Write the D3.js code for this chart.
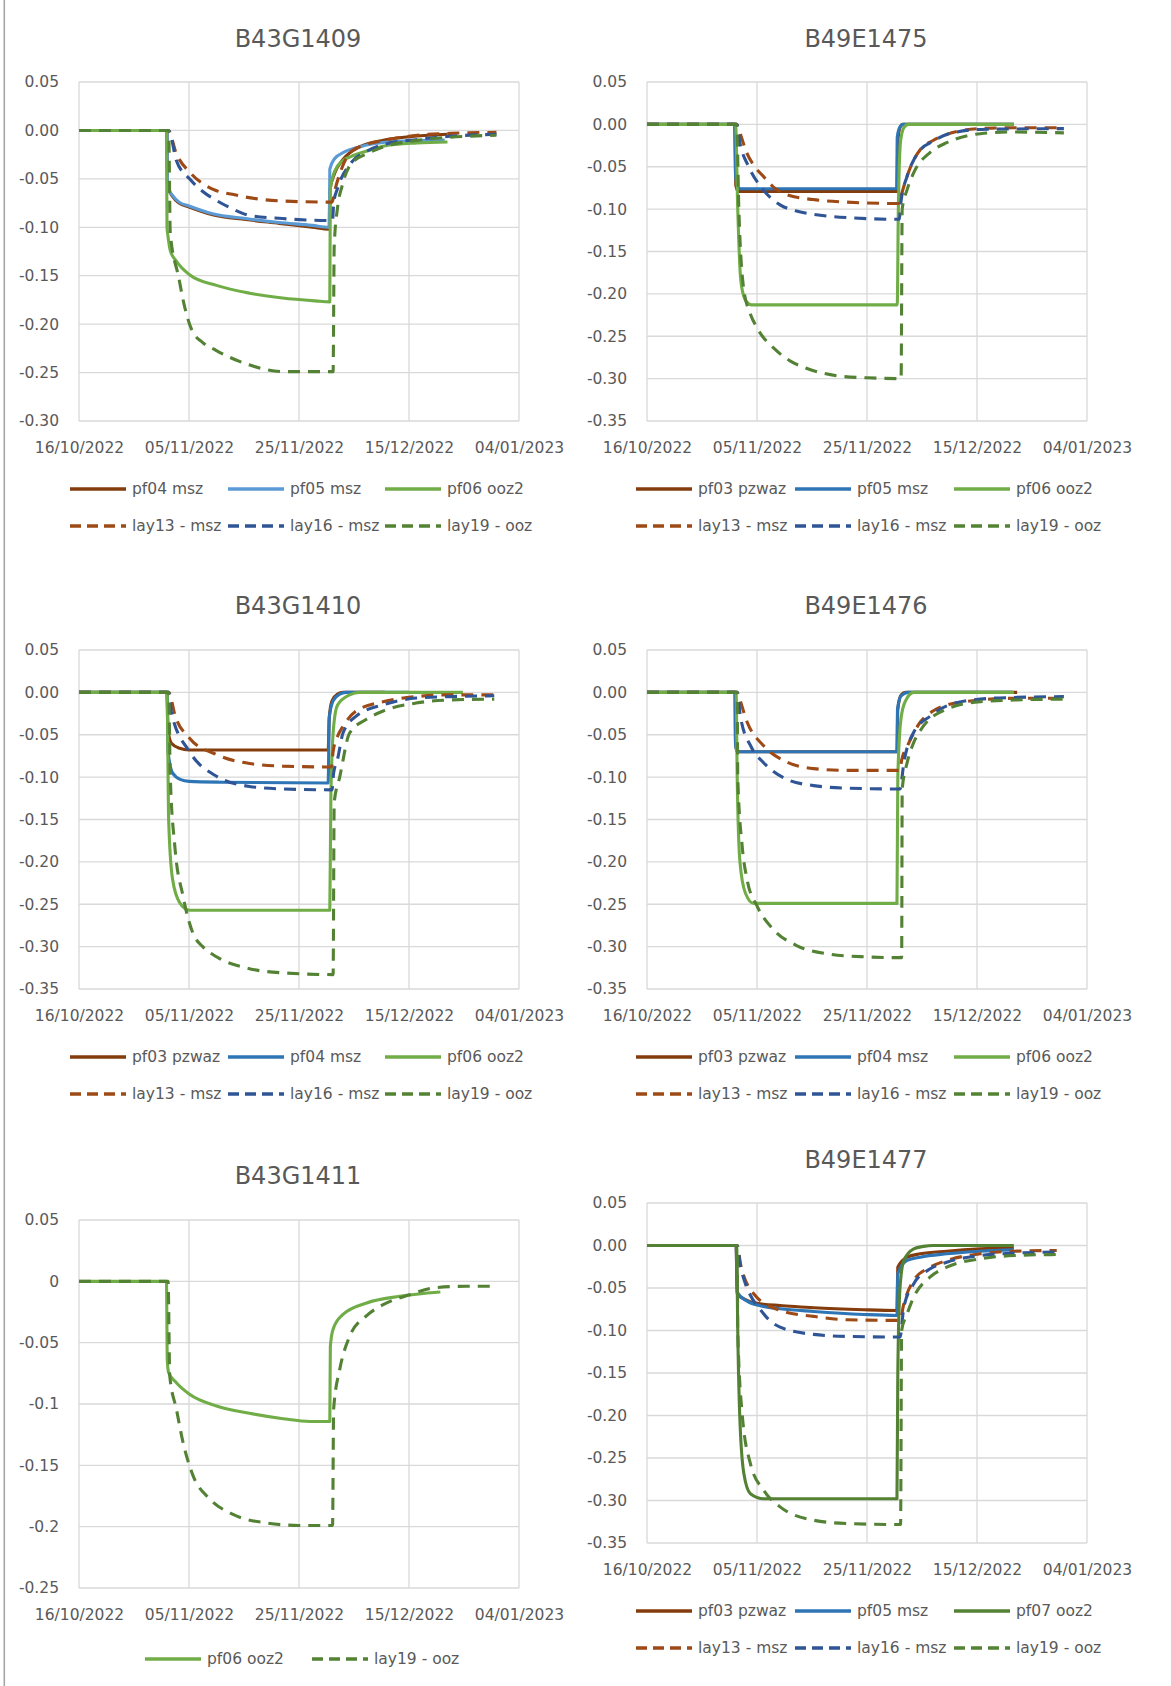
<!DOCTYPE html>
<html><head><meta charset="utf-8">
<script src="https://cdn.jsdelivr.net/npm/d3@7"></script>
<style>
html,body{margin:0;padding:0;background:#fff;}
text{font-family:"DejaVu Sans",sans-serif;fill:#595959;}
</style></head>
<body>
<script>
// ---------- axis labels ----------
const xTickLabels = ["16/10/2022","05/11/2022","25/11/2022","15/12/2022","04/01/2023"];
const yTicks035 = [0.05,0,-0.05,-0.10,-0.15,-0.20,-0.25,-0.30,-0.35];
const yTicks030 = [0.05,0,-0.05,-0.10,-0.15,-0.20,-0.25,-0.30];
const yTicks025 = [0.05,0,-0.05,-0.1,-0.15,-0.2,-0.25];

// ---------- data: [days since 16/10/2022, value] ----------
// B43G1409
const g1409_pf04 = [[0,0],[16,0],[16.1,-0.058],[17,-0.068],[18.2,-0.075],[20,-0.079],[24.3,-0.087],[30.3,-0.092],[36.4,-0.096],[42.4,-0.100],[45.5,-0.102],[45.6,-0.062],[46.5,-0.044],[48,-0.030],[51,-0.017],[56,-0.0095],[61,-0.006],[67,-0.004]];
const g1409_pf05 = [[0,0],[16,0],[16.1,-0.058],[17,-0.067],[18.2,-0.074],[20,-0.078],[24.3,-0.086],[30.3,-0.091],[36.4,-0.095],[42.4,-0.098],[45.5,-0.100],[45.6,-0.040],[46.5,-0.029],[48,-0.023],[51,-0.017],[56,-0.012],[61,-0.0105],[66.5,-0.010]];
const g1409_pf06 = [[0,0],[15.9,0],[16,-0.100],[16.2,-0.110],[16.6,-0.124],[17.7,-0.135],[20.1,-0.149],[25,-0.160],[31,-0.168],[37,-0.173],[43,-0.176],[45.6,-0.177],[45.7,-0.060],[46.5,-0.042],[48,-0.031],[49.4,-0.027],[52.5,-0.021],[55.5,-0.016],[61.5,-0.013],[67,-0.012]];
const g1409_lay13 = [[0,0],[16.2,0],[17.7,-0.024],[20.1,-0.043],[22.5,-0.055],[24.9,-0.062],[27.9,-0.066],[30.9,-0.0694],[37,-0.0729],[46,-0.074],[46.6,-0.060],[47.4,-0.045],[49.4,-0.022],[52.5,-0.014],[55.4,-0.0103],[61.5,-0.005],[67.5,-0.003],[75.9,-0.002]];
const g1409_lay16 = [[0,0],[16.3,0],[17.7,-0.031],[20.1,-0.050],[22.5,-0.063],[24.9,-0.072],[27.9,-0.081],[30.9,-0.0876],[37,-0.091],[46.1,-0.093],[46.3,-0.075],[47,-0.060],[49.4,-0.034],[52.5,-0.021],[55.4,-0.0145],[61.5,-0.0093],[67.5,-0.006],[75.9,-0.004]];
const g1409_lay19 = [[0,0],[16.3,0],[16.6,-0.1065],[18.1,-0.151],[19.2,-0.182],[20.5,-0.206],[22.5,-0.219],[24.9,-0.227],[30.9,-0.242],[37,-0.249],[46.2,-0.249],[46.4,-0.120],[47,-0.080],[47.8,-0.058],[49.4,-0.035],[52.5,-0.0237],[55.4,-0.0168],[61.5,-0.0103],[67.5,-0.007],[75.9,-0.005]];
// B49E1475
const e1475_pf03 = [[0,0],[16,0],[16.15,-0.072],[16.6,-0.079],[45.45,-0.079],[45.6,-0.020],[46,-0.004],[46.5,0],[66.7,0]];
const e1475_pf05 = [[0,0],[15.9,0],[16.1,-0.060],[16.5,-0.074],[17,-0.076],[45.4,-0.076],[45.5,-0.015],[46,-0.003],[46.6,0],[66.7,0]];
const e1475_pf06 = [[0,0],[16.1,0],[16.5,-0.100],[17,-0.180],[17.6,-0.203],[18.2,-0.210],[19,-0.213],[45.5,-0.213],[45.7,-0.100],[46.1,-0.020],[46.7,-0.004],[47.5,0],[66.7,0]];
const e1475_lay13 = [[0,0],[16.3,0],[17,-0.012],[18.1,-0.033],[19.6,-0.050],[21.1,-0.061],[23,-0.074],[25.4,-0.083],[30.2,-0.0887],[36.3,-0.0917],[45.9,-0.0934],[46.2,-0.085],[47.3,-0.061],[48.5,-0.042],[49.7,-0.0296],[52,-0.019],[54.5,-0.0118],[60.6,-0.005],[66.7,-0.004],[75.8,-0.004]];
const e1475_lay16 = [[0,0],[16.3,0],[16.9,-0.022],[18.5,-0.050],[21.1,-0.077],[24.2,-0.095],[27,-0.102],[30.2,-0.106],[36.3,-0.110],[45.9,-0.112],[46.1,-0.095],[47.3,-0.061],[48.5,-0.042],[49.7,-0.030],[52,-0.020],[54.5,-0.012],[60.6,-0.006],[75.8,-0.005]];
const e1475_lay19 = [[0,0],[16.3,0],[16.7,-0.100],[17.6,-0.195],[18.7,-0.222],[20,-0.240],[23.2,-0.265],[26,-0.279],[29.1,-0.288],[35,-0.297],[40,-0.299],[46.2,-0.300],[46.4,-0.100],[47.3,-0.077],[48.5,-0.057],[51.5,-0.033],[54.5,-0.0216],[60.6,-0.011],[66.7,-0.009],[75.8,-0.010]];
// B43G1410
const g1410_pf03 = [[0,0],[16,0],[16.2,-0.045],[16.8,-0.060],[18.3,-0.066],[20,-0.068],[45.3,-0.068],[45.5,-0.030],[46,-0.010],[47,-0.002],[48,0],[55.6,0]];
const g1410_pf04 = [[0,0],[16,0],[16.2,-0.070],[17,-0.095],[18.5,-0.103],[20,-0.105],[26,-0.106],[45.3,-0.107],[45.5,-0.030],[46.2,-0.010],[47.4,-0.002],[48.5,0],[60,0]];
const g1410_pf06 = [[0,0],[16,0],[16.3,-0.150],[17,-0.220],[18.3,-0.248],[20.1,-0.257],[45.6,-0.257],[45.8,-0.120],[46.3,-0.040],[47,-0.015],[49.2,-0.003],[51,0],[69.8,0]];
const g1410_lay13 = [[0,0],[16.3,0],[17.5,-0.028],[20.1,-0.054],[25,-0.0733],[31,-0.084],[37,-0.087],[45.9,-0.088],[46.2,-0.070],[47,-0.052],[48,-0.040],[50.4,-0.022],[55.3,-0.011],[61.3,-0.005],[67.3,-0.003],[75.5,-0.003]];
const g1410_lay16 = [[0,0],[16.3,0],[16.8,-0.024],[20.1,-0.070],[25,-0.099],[31,-0.111],[37,-0.114],[46,-0.115],[46.3,-0.095],[47,-0.079],[48,-0.048],[50.4,-0.028],[55.3,-0.0146],[61.3,-0.0067],[67.3,-0.005],[75.5,-0.004]];
const g1410_lay19 = [[0,0],[16.3,0],[16.6,-0.100],[17.4,-0.180],[18.9,-0.240],[20.7,-0.284],[22.5,-0.300],[25,-0.312],[31,-0.326],[37.1,-0.331],[46.2,-0.333],[46.4,-0.130],[47.4,-0.100],[49.2,-0.048],[52.2,-0.032],[55.3,-0.022],[61.3,-0.0126],[67.3,-0.009],[75.5,-0.008]];
// B49E1476
const e1476_pf03 = [[0,0],[16,0],[16.1,-0.060],[16.4,-0.070],[45.45,-0.070],[45.6,-0.020],[46.2,-0.003],[47,0],[67.3,0]];
const e1476_pf04 = [[0,0],[16,0],[16.1,-0.062],[16.4,-0.070],[45.45,-0.070],[45.55,-0.020],[46.2,-0.004],[47.5,0],[66.5,0]];
const e1476_pf06 = [[0,0],[16.2,0],[16.4,-0.100],[16.9,-0.200],[17.9,-0.237],[19.4,-0.249],[45.45,-0.249],[45.6,-0.100],[46.2,-0.030],[47,-0.010],[48.5,0],[66.7,0]];
const e1476_lay13 = [[0,0],[16.4,0],[16.7,-0.005],[18.2,-0.035],[21.2,-0.063],[25.4,-0.082],[30.3,-0.090],[36.4,-0.092],[46,-0.092],[46.3,-0.080],[47.3,-0.064],[49.7,-0.035],[52,-0.022],[54.5,-0.015],[60.6,-0.009],[66.7,-0.007],[75.8,-0.007]];
const e1476_lay16 = [[0,0],[16.4,0],[17,-0.029],[19,-0.065],[21.2,-0.083],[25.4,-0.1025],[30.3,-0.110],[36.4,-0.113],[46,-0.114],[46.7,-0.083],[48.5,-0.047],[51.5,-0.028],[54.5,-0.016],[60.6,-0.008],[66.7,-0.006],[75.8,-0.005]];
const e1476_lay19 = [[0,0],[16.4,0],[16.5,-0.100],[17.3,-0.181],[18.2,-0.221],[20,-0.252],[23,-0.280],[27.3,-0.299],[33.3,-0.309],[39.4,-0.312],[46.3,-0.313],[46.4,-0.114],[47.3,-0.083],[48.5,-0.059],[49.7,-0.045],[54.5,-0.0197],[60.6,-0.011],[66.7,-0.009],[75.8,-0.008]];
// B43G1411
const g1411_pf06 = [[0,0],[15.9,0],[16.05,-0.064],[16.3,-0.0745],[17.7,-0.0826],[20.1,-0.092],[25,-0.1016],[31,-0.1076],[37.1,-0.112],[42,-0.1143],[45.6,-0.1143],[45.7,-0.053],[46.2,-0.039],[48,-0.027],[52.3,-0.0176],[58.3,-0.0122],[65.7,-0.0087]];
const g1411_lay19 = [[0,0],[16.2,0],[16.5,-0.077],[17.7,-0.104],[18.9,-0.131],[20.7,-0.158],[23.8,-0.1775],[28,-0.190],[34.1,-0.197],[40,-0.199],[46.1,-0.199],[46.3,-0.104],[47.4,-0.072],[49.2,-0.045],[52.3,-0.028],[55.3,-0.019],[60.1,-0.011],[64.4,-0.0054],[70.4,-0.004],[75.3,-0.004]];
// B49E1477
const e1477_pf03 = [[0,0],[16.2,0],[16.4,-0.057],[18.2,-0.0646],[21.2,-0.0693],[24.2,-0.0705],[30.3,-0.0733],[39.4,-0.0756],[45.45,-0.0764],[45.6,-0.0255],[47.3,-0.0137],[49.7,-0.0098],[54.5,-0.0067],[60.6,-0.004],[66.7,-0.0027]];
const e1477_pf05 = [[0,0],[16.2,0],[16.4,-0.0549],[18.2,-0.0654],[21.2,-0.0717],[24.2,-0.0744],[30.3,-0.0776],[39.4,-0.0811],[45.45,-0.0823],[45.6,-0.0333],[47.3,-0.0176],[49.7,-0.0137],[54.5,-0.0098],[60.6,-0.0067],[66.7,-0.0051]];
const e1477_pf07 = [[0,0],[16.3,0],[16.5,-0.100],[16.85,-0.198],[17.6,-0.268],[18.8,-0.292],[21.2,-0.298],[45.45,-0.298],[45.6,-0.150],[46,-0.050],[46.7,-0.0176],[48.5,-0.004],[50.3,-0.001],[52,0],[66.7,0]];
const e1477_lay13 = [[0,0],[16.4,0],[17,-0.0215],[19.4,-0.0568],[24.2,-0.0764],[30.3,-0.0834],[36.4,-0.0874],[46,-0.0881],[46.7,-0.0685],[48.5,-0.041],[51.5,-0.0255],[54.5,-0.0176],[60.6,-0.0098],[66.7,-0.0067],[74.5,-0.0059]];
const e1477_lay16 = [[0,0],[16.4,0],[17,-0.0255],[21.2,-0.0803],[24.2,-0.096],[30.3,-0.1046],[36.4,-0.107],[46,-0.1077],[46.7,-0.0725],[48.5,-0.045],[51.5,-0.0274],[54.5,-0.0196],[60.6,-0.0118],[66.7,-0.009],[74.5,-0.0078]];
const e1477_lay19 = [[0,0],[16.4,0],[16.5,-0.100],[17.3,-0.198],[18.8,-0.2566],[21.2,-0.2879],[24.2,-0.3075],[30.3,-0.3232],[36.4,-0.3271],[46.1,-0.3283],[46.3,-0.100],[47.3,-0.0803],[48.5,-0.0607],[51.5,-0.037],[54.5,-0.0255],[60.6,-0.0157],[66.7,-0.0118],[74.5,-0.0106]];

// ---------- styles ----------
const C = {
  brown:"#843C0C", brownD:"#9E4A17", lblue:"#5B9BD5", blue:"#2E75B6", blueD:"#2F5597",
  green:"#70AD47", greenD:"#548235", dgreen:"#548235"
};
const S = (name,data,color,dash)=>({name,data,color,dash});
const hy = f => d => f(d).replace("\u2212","-");

const charts = [
  {title:"B43G1409", L:79, R:519, T:82, B:421, ty:38, yt:yTicks030, fmt:hy(d3.format(".2f")), lx:[70,228,385],
   series:[S("pf04 msz",g1409_pf04,C.brown,false),S("pf05 msz",g1409_pf05,C.lblue,false),S("pf06 ooz2",g1409_pf06,C.green,false),
           S("lay13 - msz",g1409_lay13,C.brownD,true),S("lay16 - msz",g1409_lay16,C.blueD,true),S("lay19 - ooz",g1409_lay19,C.greenD,true)]},
  {title:"B49E1475", L:647, R:1087, T:82, B:421, ty:38, yt:yTicks035, fmt:hy(d3.format(".2f")), lx:[636,795,954],
   series:[S("pf03 pzwaz",e1475_pf03,C.brown,false),S("pf05 msz",e1475_pf05,C.blue,false),S("pf06 ooz2",e1475_pf06,C.green,false),
           S("lay13 - msz",e1475_lay13,C.brownD,true),S("lay16 - msz",e1475_lay16,C.blueD,true),S("lay19 - ooz",e1475_lay19,C.greenD,true)]},
  {title:"B43G1410", L:79, R:519, T:650, B:989, ty:605, yt:yTicks035, fmt:hy(d3.format(".2f")), lx:[70,228,385],
   series:[S("pf03 pzwaz",g1410_pf03,C.brown,false),S("pf04 msz",g1410_pf04,C.blue,false),S("pf06 ooz2",g1410_pf06,C.green,false),
           S("lay13 - msz",g1410_lay13,C.brownD,true),S("lay16 - msz",g1410_lay16,C.blueD,true),S("lay19 - ooz",g1410_lay19,C.greenD,true)]},
  {title:"B49E1476", L:647, R:1087, T:650, B:989, ty:605, yt:yTicks035, fmt:hy(d3.format(".2f")), lx:[636,795,954],
   series:[S("pf03 pzwaz",e1476_pf03,C.brown,false),S("pf04 msz",e1476_pf04,C.blue,false),S("pf06 ooz2",e1476_pf06,C.green,false),
           S("lay13 - msz",e1476_lay13,C.brownD,true),S("lay16 - msz",e1476_lay16,C.blueD,true),S("lay19 - ooz",e1476_lay19,C.greenD,true)]},
  {title:"B43G1411", L:79, R:519, T:1220, B:1588, ty:1175, yt:yTicks025, fmt:hy(d3.format("")), lx:[145,312], oneRow:true,
   series:[S("pf06 ooz2",g1411_pf06,C.green,false),S("lay19 - ooz",g1411_lay19,C.greenD,true)]},
  {title:"B49E1477", L:647, R:1087, T:1203, B:1543, ty:1159, yt:yTicks035, fmt:hy(d3.format(".2f")), lx:[636,795,954],
   series:[S("pf03 pzwaz",e1477_pf03,C.brown,false),S("pf05 msz",e1477_pf05,C.blue,false),S("pf07 ooz2",e1477_pf07,C.dgreen,false),
           S("lay13 - msz",e1477_lay13,C.brownD,true),S("lay16 - msz",e1477_lay16,C.blueD,true),S("lay19 - ooz",e1477_lay19,C.greenD,true)]}
];

const parse = d3.utcParse("%d/%m/%Y"), fmtX = d3.utcFormat("%d/%m/%Y");
const xDates = xTickLabels.map(parse);
const T0 = xDates[0].getTime(), DAY = 864e5;
const FS = 15.5;

const svg = d3.select("body").append("svg").attr("width",1171).attr("height",1686);
svg.append("rect").attr("width",1171).attr("height",1686).attr("fill","#fff");
svg.append("rect").attr("x",3.5).attr("y",0).attr("width",1.6).attr("height",1686).attr("fill","#A6A6A6");

charts.forEach(c=>{
  const g = svg.append("g");
  const x = d3.scaleUtc().domain([xDates[0], xDates[xDates.length-1]]).range([c.L,c.R]);
  const y = d3.scaleLinear().domain([d3.min(c.yt), d3.max(c.yt)]).range([c.B,c.T]);

  // gridlines
  g.selectAll(".hg").data(c.yt).join("line").attr("x1",c.L).attr("x2",c.R)
    .attr("y1",d=>y(d)).attr("y2",d=>y(d)).attr("stroke","#D9D9D9").attr("stroke-width",1.3);
  g.selectAll(".vg").data(xDates).join("line").attr("y1",c.T).attr("y2",c.B)
    .attr("x1",d=>x(d)).attr("x2",d=>x(d)).attr("stroke","#D9D9D9").attr("stroke-width",1.3);

  // axes (labels only)
  const ax = g.append("g").attr("transform",`translate(0,${c.B})`)
    .call(d3.axisBottom(x).tickValues(xDates).tickFormat(fmtX).tickSize(0).tickPadding(21));
  ax.select(".domain").remove();
  ax.selectAll("text").style("font-family","DejaVu Sans").style("font-size",FS+"px").attr("fill","#595959");
  const ay = g.append("g").attr("transform",`translate(${c.L},0)`)
    .call(d3.axisLeft(y).tickValues(c.yt).tickFormat(c.fmt).tickSize(0).tickPadding(20));
  ay.select(".domain").remove();
  ay.selectAll("text").style("font-family","DejaVu Sans").style("font-size",FS+"px").attr("fill","#595959");

  // title
  g.append("text").attr("x",(c.L+c.R)/2-1).attr("y",c.ty).attr("dy","0.36em")
    .attr("text-anchor","middle").style("font-size","24px").text(c.title);

  // lines
  const line = d3.line().x(p=>x(new Date(T0+p[0]*DAY))).y(p=>y(p[1])).curve(d3.curveMonotoneX);
  c.series.forEach(s=>{
    g.append("path").attr("d",line(s.data)).attr("fill","none").attr("stroke",s.color)
      .attr("stroke-width",3.1).attr("stroke-linejoin","round")
      .attr("stroke-dasharray",s.dash?"12,8":null);
  });

  // legend
  c.series.forEach((s,i)=>{
    let row, col;
    if(c.oneRow){row=0; col=i;} else {row=Math.floor(i/3); col=i%3;}
    const ly = c.B + (c.oneRow?71:(row===0?68:105));
    const lx0 = c.lx[col];
    g.append("line").attr("x1",lx0).attr("x2",lx0+56).attr("y1",ly).attr("y2",ly)
      .attr("stroke",s.color).attr("stroke-width",3.6).attr("stroke-dasharray",s.dash?"11,6":null);
    g.append("text").attr("x",lx0+62).attr("y",ly).attr("dy","0.35em")
      .style("font-size",FS+"px").text(s.name);
  });
});
</script>
</body></html>
